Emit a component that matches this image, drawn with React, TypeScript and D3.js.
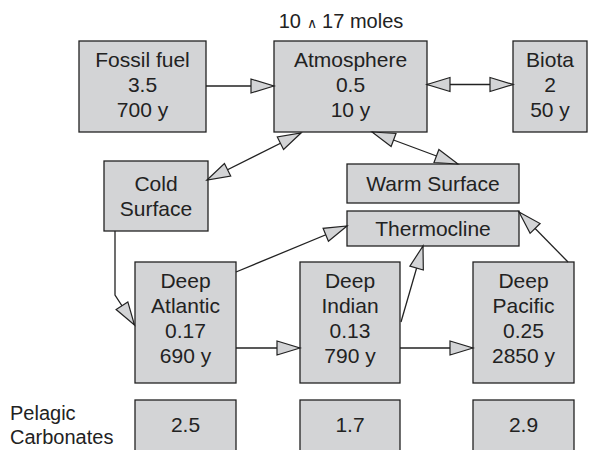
import { useEffect, useRef } from "react";
import * as d3 from "d3";

// reservoirs and their contents (10^17 moles) and residence times (years)
const reservoirs = [
  "Fossil fuel",
  "Atmosphere",
  "Biota",
  "Cold Surface",
  "Warm Surface",
  "Thermocline",
  "Deep Atlantic",
  "Deep Indian",
  "Deep Pacific",
];
const nameLines = [
  ["Fossil fuel"],
  ["Atmosphere"],
  ["Biota"],
  ["Cold", "Surface"],
  ["Warm Surface"],
  ["Thermocline"],
  ["Deep", "Atlantic"],
  ["Deep", "Indian"],
  ["Deep", "Pacific"],
];
const stocks = ["3.5", "0.5", "2", "", "", "", "0.17", "0.13", "0.25"];
const residenceYears = ["700", "10", "50", "", "", "", "690", "790", "2850"];

const carbonateBasins = ["Deep Atlantic", "Deep Indian", "Deep Pacific"];
const carbonateStocks = ["2.5", "1.7", "2.9"];

// fluxes: from, to, two-way?
const flows: [string, string, boolean][] = [
  ["Fossil fuel", "Atmosphere", false],
  ["Atmosphere", "Biota", true],
  ["Atmosphere", "Cold Surface", true],
  ["Atmosphere", "Warm Surface", true],
  ["Cold Surface", "Deep Atlantic", false],
  ["Deep Atlantic", "Thermocline", false],
  ["Deep Atlantic", "Deep Indian", false],
  ["Deep Indian", "Deep Pacific", false],
  ["Deep Indian", "Thermocline", false],
  ["Deep Pacific", "Thermocline", false],
];

// layout of the boxes [x, y, w, h]
const boxLayout: Record<string, number[]> = {
  "Fossil fuel": [79, 41, 127, 91],
  Atmosphere: [274, 41, 153, 91],
  Biota: [513, 41, 74, 91],
  "Cold Surface": [104, 161, 104, 70],
  "Warm Surface": [347, 164, 172, 39],
  Thermocline: [347, 211, 172, 35],
  "Deep Atlantic": [135, 262, 101, 121],
  "Deep Indian": [300, 262, 100, 121],
  "Deep Pacific": [473, 262, 101, 121],
};

// endpoints of each flux line
const flowPoints: number[][][] = [
  [[206, 86], [274, 86]],
  [[427, 84.5], [513, 84.5]],
  [[301, 133], [207, 180]],
  [[372, 132], [458, 164]],
  [[115, 231], [115, 295], [134.5, 325]],
  [[236, 272], [347, 226]],
  [[236, 348], [300, 348]],
  [[400, 348], [473, 348]],
  [[401, 322], [423, 246]],
  [[568, 262], [519, 212]],
];

const FILL = "#d3d4d6";
const INK = "#222";
const FONT = "'Liberation Sans', Arial, sans-serif";

export default function App() {
  const ref = useRef<SVGSVGElement>(null);

  useEffect(() => {
    const svg = d3.select(ref.current);
    svg.selectAll("*").remove();

    const lineH = 25;
    const fs = 21;

    // title
    const title = svg
      .append("text")
      .attr("x", 341)
      .attr("y", 28)
      .attr("text-anchor", "middle")
      .attr("font-family", FONT)
      .attr("font-size", 20)
      .attr("fill", INK);
    title.append("tspan").text("10 ");
    title.append("tspan").attr("font-size", 14).text("\u2227");
    title.append("tspan").text(" 17 moles");

    // boxes
    reservoirs.forEach((name, i) => {
      const [x, y, w, h] = boxLayout[name];
      const g = svg.append("g");
      g.append("rect")
        .attr("x", x)
        .attr("y", y)
        .attr("width", w)
        .attr("height", h)
        .attr("fill", FILL)
        .attr("stroke", INK)
        .attr("stroke-width", 1.3);
      const lines = [...nameLines[i]];
      if (stocks[i]) lines.push(stocks[i]);
      if (residenceYears[i]) lines.push(residenceYears[i] + " y");
      const first = lines.length > 2 ? y + 25.5 : y + h / 2 - ((lines.length - 1) * lineH) / 2 + 7.5;
      g.selectAll("text")
        .data(lines)
        .enter()
        .append("text")
        .attr("x", x + w / 2)
        .attr("y", (_, j) => first + j * lineH)
        .attr("text-anchor", "middle")
        .attr("font-family", FONT)
        .attr("font-size", fs)
        .attr("fill", INK)
        .text((d) => d);
    });

    // pelagic carbonates row
    carbonateBasins.forEach((basin, i) => {
      const [x, , w] = boxLayout[basin];
      svg
        .append("rect")
        .attr("x", x)
        .attr("y", 400)
        .attr("width", w)
        .attr("height", 70)
        .attr("fill", FILL)
        .attr("stroke", INK)
        .attr("stroke-width", 1.3);
      svg
        .append("text")
        .attr("x", x + w / 2)
        .attr("y", 432)
        .attr("text-anchor", "middle")
        .attr("font-family", FONT)
        .attr("font-size", fs)
        .attr("fill", INK)
        .text(carbonateStocks[i]);
    });
    svg
      .append("text")
      .attr("font-family", FONT)
      .attr("font-size", 20)
      .attr("fill", INK)
      .selectAll("tspan")
      .data(["Pelagic", "Carbonates"])
      .enter()
      .append("tspan")
      .attr("x", 10)
      .attr("y", (_, j) => 420 + j * 24)
      .text((d) => d);

    // arrows
    const headLen = 23;
    const headHalf = 7;
    const head = (tip: number[], from: number[]) => {
      const dx = tip[0] - from[0];
      const dy = tip[1] - from[1];
      const len = Math.hypot(dx, dy);
      const ux = dx / len;
      const uy = dy / len;
      const bx = tip[0] - ux * headLen;
      const by = tip[1] - uy * headLen;
      svg
        .append("path")
        .attr(
          "d",
          `M${tip[0]},${tip[1]}L${bx - uy * headHalf},${by + ux * headHalf}L${bx + uy * headHalf},${by - ux * headHalf}Z`
        )
        .attr("fill", FILL)
        .attr("stroke", INK)
        .attr("stroke-width", 1.2)
        .attr("stroke-linejoin", "miter");
    };

    const line = d3.line().curve(d3.curveLinear);
    flows.forEach(([, , twoWay], i) => {
      const pts = flowPoints[i] as [number, number][];
      svg
        .append("path")
        .attr("d", line(pts))
        .attr("fill", "none")
        .attr("stroke", INK)
        .attr("stroke-width", 1.3);
      const n = pts.length;
      head(pts[n - 1], pts[n - 2]);
      if (twoWay) head(pts[0], pts[1]);
    });
  }, []);

  return (
    <svg
      ref={ref}
      width={610}
      height={450}
      style={{ position: "absolute", left: 0, top: 0, background: "#fff" }}
    />
  );
}
